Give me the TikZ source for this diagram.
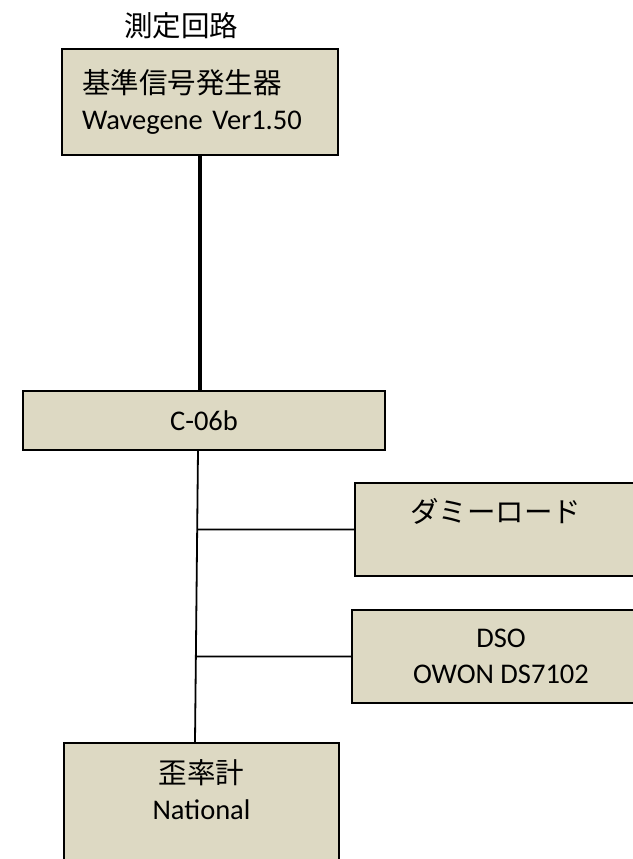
\documentclass[tikz,border=0pt]{standalone}
\usepackage{fontspec}
\setmainfont{Carlito}
\newfontfamily\jp{Noto Sans CJK JP}
\usetikzlibrary{calc}
\definecolor{boxfill}{RGB}{221,217,195}

\begin{document}
\begin{tikzpicture}[x=1pt, y=-1pt, font=\fontsize{28.5}{36}\selectfont]
    \tikzstyle{device}=[draw=black, fill=boxfill, line width=2pt, inner sep=0pt]
    \tikzstyle{link}=[draw=black, line width=1.8pt]
    \tikzstyle{main link}=[link, line width=4pt]

    \useasboundingbox (0,0) rectangle (632,859);

    % Title
    \node (title) at (181,26) {\jp 測定回路};

    % Draw the devices
    \node[device, minimum width=276pt, minimum height=106pt, text width=236pt,
          inner xsep=20pt, align=left] (gen) at (200,102)
        {{\jp 基準信号発生器}\\Wavegene Ver1.50};
    \node[device, minimum width=362pt, minimum height=59pt] (ctrl) at (204,420.5) {C-06b};

    \node[device, minimum width=281pt, minimum height=93pt, anchor=north west] (dummy) at (354,482) {};
    \node (dummy-label) at ([yshift=-29pt]dummy.north) {\jp ダミーロード};

    \node[device, minimum width=298pt, minimum height=93pt, anchor=north west,
          align=center] (dso) at (351,609) {DSO\\OWON DS7102};

    \node[device, minimum width=275pt, minimum height=140pt, anchor=north west] (dist) at (63,742) {};
    \node[align=center] (dist-label) at ([yshift=-48pt]dist.north) {{\jp 歪率計}\\National};

    % Connect the generator with C-06b
    \path[main link] (gen.south) -- (gen.south |- ctrl.north);

    % Bus from C-06b down to the distortion meter
    \coordinate (bus-top) at (198,450);
    \coordinate (bus-bottom) at (195,742);
    \path[link] (bus-top) -- (bus-bottom);

    % Branch to the dummy load and the DSO
    \foreach \dest in {dummy,dso}
        \path[link] (intersection of bus-top--bus-bottom and \dest.west--\dest.east) -- (\dest.west);
\end{tikzpicture}
\end{document}
